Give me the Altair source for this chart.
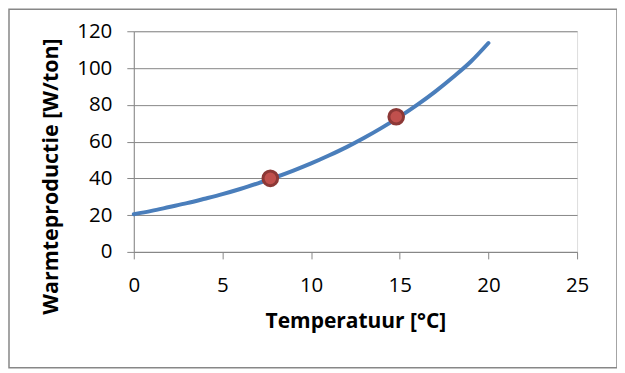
import altair as alt
import pandas as pd

# Curve (temperature °C -> heat production W/ton)
curve_x = [0, 1, 2, 3, 4, 5, 6, 7, 8, 9, 10, 11, 12, 13, 14, 15, 16, 17, 18, 19, 20]
curve_y = [20.5, 22.3, 24.4, 26.5, 28.9, 31.4, 34.2, 37.3, 40.6, 44.2, 48.1,
           52.4, 57.0, 62.1, 67.6, 73.6, 80.1, 87.2, 95.0, 103.4, 113.6]

# Highlighted points
pts_x = [7.7, 14.8]
pts_y = [40.0, 73.5]

x_ticks = [0, 5, 10, 15, 20, 25]
y_ticks = [0, 20, 40, 60, 80, 100, 120]

curve = pd.DataFrame({"t": curve_x, "w": curve_y})
pts = pd.DataFrame({"t": pts_x, "w": pts_y})

FONT = "Open Sans"
GRAY = "#878787"

x_enc = alt.X("t:Q", scale=alt.Scale(domain=[0, 25], nice=False),
              axis=alt.Axis(values=x_ticks, tickCount=20, title="Temperatuur [°C]", grid=False,
                            domainColor=GRAY, tickColor=GRAY, tickSize=7,
                            labelFont=FONT, labelFontSize=20.5, labelColor="#000",
                            labelFlush=False, labelOverlap=False,
                            labelPadding=17, titleFont=FONT, titleFontSize=21,
                            titleFontWeight="bold", titleColor="#000", titlePadding=14))
y_enc = alt.Y("w:Q", scale=alt.Scale(domain=[0, 120], nice=False),
              axis=alt.Axis(values=y_ticks, tickCount=20, title="Warmteproductie [W/ton]",
                            grid=True, gridColor=GRAY, gridWidth=1, domainColor=GRAY,
                            tickColor=GRAY, tickSize=7, labelFont=FONT, labelFontSize=20.5,
                            labelColor="#000", labelFlush=False, labelOverlap=False,
                            labelPadding=15, titleFont=FONT, titleFontSize=21.5,
                            titleFontWeight="bold", titleColor="#000",
                            titleX=-71, titleY=145))

line = alt.Chart(curve).mark_line(color="#4a7ebb", strokeWidth=4, interpolate="monotone",
                                  strokeCap="round").encode(x=x_enc, y=y_enc)

points = alt.Chart(pts).mark_point(filled=True, shape="circle", size=215, fill="#c0504d",
                                   stroke="#8c3836", strokeWidth=3, opacity=1).encode(
    x="t:Q", y="w:Q")

border = alt.Chart(pd.DataFrame({"a": [0]})).mark_rect(
    fill=None, stroke=GRAY, strokeWidth=1.5).encode(
    x=alt.value(-125), x2=alt.value(484), y=alt.value(-22), y2=alt.value(337))

chart = alt.layer(border, line, points).properties(
    width=444, height=221,
    autosize=alt.AutoSizeParams(type="none"),
    padding={"left": 126, "top": 23, "right": 40, "bottom": 118},
).configure_view(stroke=None).configure(background="white")

chart.save("out.html", embed_options={"renderer": "svg", "actions": False})
